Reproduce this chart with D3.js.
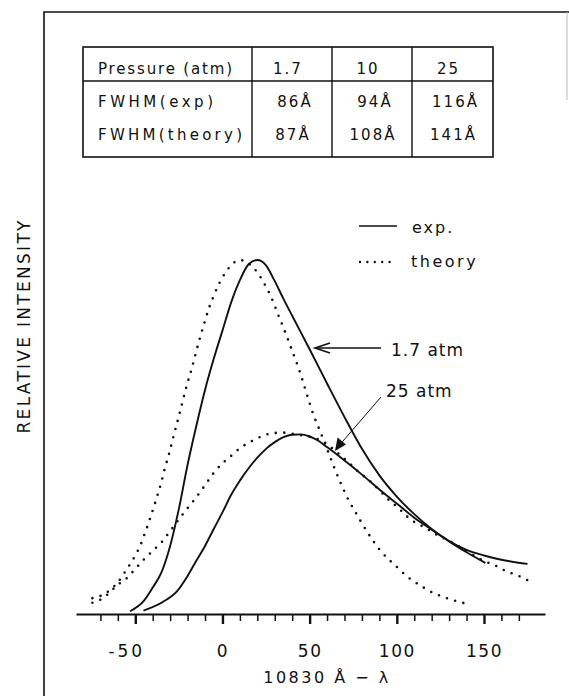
<!DOCTYPE html>
<html>
<head>
<meta charset="utf-8">
<title>Relative intensity vs 10830 Å − λ</title>
<script src="https://d3js.org/d3.v7.min.js"></script>
<style>
  body { margin: 0; background: #fff; }
  svg text { font-family: "DejaVu Sans", sans-serif; fill: #111; }
</style>
</head>
<body>
<div id="chart"></div>
<script>

// FWHM table
var tableHeader = "Pressure (atm)";
var rowLabels = ["FWHM(exp)", "FWHM(theory)"];
var pressures = ["1.7", "10", "25"];
var fwhmExp = [86, 94, 116];
var fwhmTheory = [87, 108, 141];

// x = 10830 Å − λ, y = relative intensity
var exp17X = [-53, -45, -40, -35, -30, -25, -20, -15, -10, -5, 0, 5, 10, 15, 20, 25, 30, 35, 40, 50, 60, 70, 80, 90, 100, 110, 120, 130, 140, 150, 160, 175];
var exp17Y = [0.005, 0.035, 0.072, 0.115, 0.19, 0.295, 0.42, 0.53, 0.632, 0.72, 0.80, 0.88, 0.943, 0.988, 1.0, 0.985, 0.94, 0.89, 0.842, 0.747, 0.65, 0.555, 0.465, 0.39, 0.33, 0.28, 0.238, 0.204, 0.179, 0.163, 0.151, 0.139];

var theory17X = [-74.6, -69.2, -64.5, -59.7, -54.9, -50.1, -46.8, -44.8, -41.9, -39.6, -37.3, -35.2, -33.3, -30.4, -28.1, -25.3, -23, -20.4, -17.6, -15.1, -12.8, -10.3, -8, -5.2, -2.3, -0.3, 4.8, 9.7, 19.7, 24.1, 27, 29.3, 32.1, 35, 37.5, 39.8, 42.7, 45.2, 47.5, 49.9, 52.2, 55.1, 58, 61.6, 64.5, 67.4, 70, 72.3, 75.2, 80, 85.4, 90.5, 95.3, 100.1, 105.5, 110.6, 115.8, 120.8, 125.9, 130.3, 135.5, 141.2];
var theory17Y = [0.042, 0.05, 0.065, 0.089, 0.124, 0.162, 0.195, 0.222, 0.262, 0.297, 0.333, 0.368, 0.405, 0.455, 0.5, 0.552, 0.596, 0.646, 0.693, 0.74, 0.781, 0.823, 0.86, 0.896, 0.929, 0.948, 0.984, 1.0, 0.967, 0.932, 0.905, 0.879, 0.843, 0.808, 0.776, 0.745, 0.707, 0.671, 0.634, 0.596, 0.561, 0.526, 0.49, 0.444, 0.407, 0.373, 0.344, 0.32, 0.295, 0.254, 0.212, 0.177, 0.152, 0.13, 0.105, 0.087, 0.071, 0.057, 0.047, 0.039, 0.032, 0.025];

var exp25X = [-45.3, -34, -26, -20, -15, -10, -5, 0, 5, 10, 15, 20, 25, 30, 35, 40, 45, 50, 55, 60, 70, 80, 90, 100, 110, 120, 130, 140, 150.8];
var exp25Y = [0.007, 0.032, 0.062, 0.105, 0.148, 0.19, 0.238, 0.285, 0.335, 0.375, 0.41, 0.44, 0.465, 0.484, 0.498, 0.505, 0.506, 0.5, 0.488, 0.47, 0.432, 0.392, 0.35, 0.31, 0.27, 0.236, 0.203, 0.172, 0.142];

var theory25X = [-74.6, -69.2, -60, -55, -50, -45, -40, -35, -30, -25, -20, -15, -10, -5, 0, 5, 10, 15, 20, 25, 30, 35, 40, 45, 58, 65, 72, 78, 85, 90, 95, 101, 106, 110.6, 116, 121, 127, 132, 136, 151, 156, 160, 165, 170, 175];
var theory25Y = [0.029, 0.04, 0.08, 0.098, 0.125, 0.152, 0.176, 0.2, 0.232, 0.265, 0.297, 0.328, 0.362, 0.397, 0.424, 0.445, 0.467, 0.482, 0.495, 0.505, 0.51, 0.511, 0.508, 0.504, 0.485, 0.458, 0.428, 0.4, 0.372, 0.348, 0.322, 0.297, 0.273, 0.256, 0.243, 0.227, 0.212, 0.199, 0.188, 0.145, 0.136, 0.125, 0.114, 0.105, 0.093];

var xTicks = [-70, -60, -50, -40, -30, -20, -10, 0, 10, 20, 30, 40, 50, 60, 70, 80, 90, 100, 110, 120, 130, 140, 150, 160, 170];
var xTickLabels = [-50, 0, 50, 100, 150];

var W = 569, H = 696;

var svg = d3.select("#chart")
    .append("svg")
    .attr("width", W)
    .attr("height", H);

// frame
svg.append("path")
    .attr("d", "M44,696V12H569")
    .attr("fill", "none")
    .attr("stroke", "#111")
    .attr("stroke-width", 1.6);
svg.append("line")
    .attr("x1", 567).attr("x2", 567).attr("y1", 12).attr("y2", 100)
    .attr("stroke", "#bbb")
    .attr("stroke-width", 1);

// scales
var x = d3.scaleLinear().domain([-84, 185]).range([76, 545]);
var y = d3.scaleLinear().domain([0, 1]).range([613, 260]);

// x axis
var xAxis = d3.axisBottom(x)
    .tickValues(xTicks)
    .tickSize(7)
    .tickSizeOuter(0)
    .tickFormat(function (d) { return xTickLabels.indexOf(d) >= 0 ? String(d) : ""; });

var gx = svg.append("g")
    .attr("transform", "translate(0,614)")
    .call(xAxis);
gx.select(".domain").attr("stroke", "#111").attr("stroke-width", 1.8);
gx.selectAll(".tick line")
    .attr("stroke", "#111")
    .attr("stroke-width", function (d) { return xTickLabels.indexOf(d) >= 0 ? 2.4 : 1.5; })
    .attr("y2", function (d) { return xTickLabels.indexOf(d) >= 0 ? 10 : 7; });
gx.selectAll(".tick text")
    .attr("y", 43)
    .attr("dy", null)
    .attr("dx", function (d) { return d < 0 ? -9 : 0; })
    .style("font-size", "17px")
    .style("letter-spacing", function (d) { return d < 0 ? "3px" : "1.5px"; })
    .attr("fill", "#111");

svg.append("text")
    .attr("x", 327)
    .attr("y", 683)
    .attr("text-anchor", "middle")
    .style("font-size", "16px")
    .style("letter-spacing", "2.5px")
    .text("10830 Å − λ");

// y label
svg.append("text")
    .attr("transform", "translate(30,327) rotate(-90)")
    .attr("text-anchor", "middle")
    .style("font-size", "17px")
    .attr("textLength", 213)
    .attr("lengthAdjust", "spacing")
    .text("RELATIVE  INTENSITY");

// curves
function pts(xs, ys) {
    return xs.map(function (v, i) { return [v, ys[i]]; });
}
var line = d3.line()
    .x(function (d) { return x(d[0]); })
    .y(function (d) { return y(d[1]); })
    .curve(d3.curveMonotoneX);

var dotted = [pts(theory17X, theory17Y), pts(theory25X, theory25Y)];
var solid = [pts(exp17X, exp17Y), pts(exp25X, exp25Y)];

svg.selectAll(".theory")
    .data(dotted)
    .enter().append("path")
    .attr("class", "theory")
    .attr("d", line)
    .attr("fill", "none")
    .attr("stroke", "#111")
    .attr("stroke-width", 2.6)
    .attr("stroke-linecap", "round")
    .attr("stroke-dasharray", "0,8.5");

svg.selectAll(".exp")
    .data(solid)
    .enter().append("path")
    .attr("class", "exp")
    .attr("d", line)
    .attr("fill", "none")
    .attr("stroke", "#111")
    .attr("stroke-width", 1.9);

// legend
svg.append("line")
    .attr("x1", 359).attr("x2", 397).attr("y1", 226).attr("y2", 226)
    .attr("stroke", "#111").attr("stroke-width", 1.6);
svg.append("line")
    .attr("x1", 360).attr("x2", 397).attr("y1", 262).attr("y2", 262)
    .attr("stroke", "#111").attr("stroke-width", 2.4)
    .attr("stroke-linecap", "round")
    .attr("stroke-dasharray", "0,7.4");
svg.append("text").attr("x", 412).attr("y", 233)
    .style("font-size", "16px").style("letter-spacing", "2px").text("exp.");
svg.append("text").attr("x", 411).attr("y", 267)
    .style("font-size", "16px").style("letter-spacing", "2.5px").text("theory");

// annotations
svg.append("line")
    .attr("x1", 381).attr("x2", 316).attr("y1", 348).attr("y2", 348)
    .attr("stroke", "#111").attr("stroke-width", 1.5);
svg.append("path")
    .attr("d", "M330,343L315,348L330,353")
    .attr("fill", "none").attr("stroke", "#111").attr("stroke-width", 1.6);
svg.append("text").attr("x", 391).attr("y", 356)
    .style("font-size", "17px").style("letter-spacing", "1px").text("1.7 atm");

svg.append("line")
    .attr("x1", 381).attr("x2", 337).attr("y1", 397).attr("y2", 448)
    .attr("stroke", "#111").attr("stroke-width", 1);
svg.append("path")
    .attr("d", "M335,451L337.5,437.5L346,444.5Z")
    .attr("fill", "#111");
svg.append("text").attr("x", 386).attr("y", 397)
    .style("font-size", "17px").style("letter-spacing", "1px").text("25 atm");

// table
var tx = [83, 252, 332, 412, 493];
var ty = [47, 81, 157];
var table = svg.append("g");
table.append("rect")
    .attr("x", tx[0]).attr("y", ty[0])
    .attr("width", tx[4] - tx[0]).attr("height", ty[2] - ty[0])
    .attr("fill", "none").attr("stroke", "#111").attr("stroke-width", 1.6);
table.append("line")
    .attr("x1", tx[0]).attr("x2", tx[4]).attr("y1", ty[1]).attr("y2", ty[1])
    .attr("stroke", "#111").attr("stroke-width", 1.4);
[1, 2, 3].forEach(function (i) {
    table.append("line")
        .attr("x1", tx[i]).attr("x2", tx[i]).attr("y1", ty[0]).attr("y2", ty[2])
        .attr("stroke", "#111").attr("stroke-width", 1.4);
});

var rowBase = [74, 107, 140];
var cellText = function (s, cx, by, anchor, len) {
    var t = table.append("text")
        .attr("x", cx).attr("y", by)
        .attr("text-anchor", anchor)
        .style("font-size", "15px")
        .style("letter-spacing", "2px")
        .text(s);
    if (len) t.attr("textLength", len).attr("lengthAdjust", "spacing").style("letter-spacing", null);
};
cellText(tableHeader, 98, rowBase[0], "start", 134);
cellText(rowLabels[0], 98, rowBase[1], "start", 115);
cellText(rowLabels[1], 98, rowBase[2], "start", 144);
pressures.forEach(function (p, i) {
    var cx = (tx[i + 1] + tx[i + 2]) / 2;
    cellText(p, cx - 4, rowBase[0], "middle");
    cellText(fwhmExp[i] + "Å", cx + 3, rowBase[1], "middle");
    cellText(fwhmTheory[i] + "Å", cx + 1, rowBase[2], "middle");
});

</script>
</body>
</html>
